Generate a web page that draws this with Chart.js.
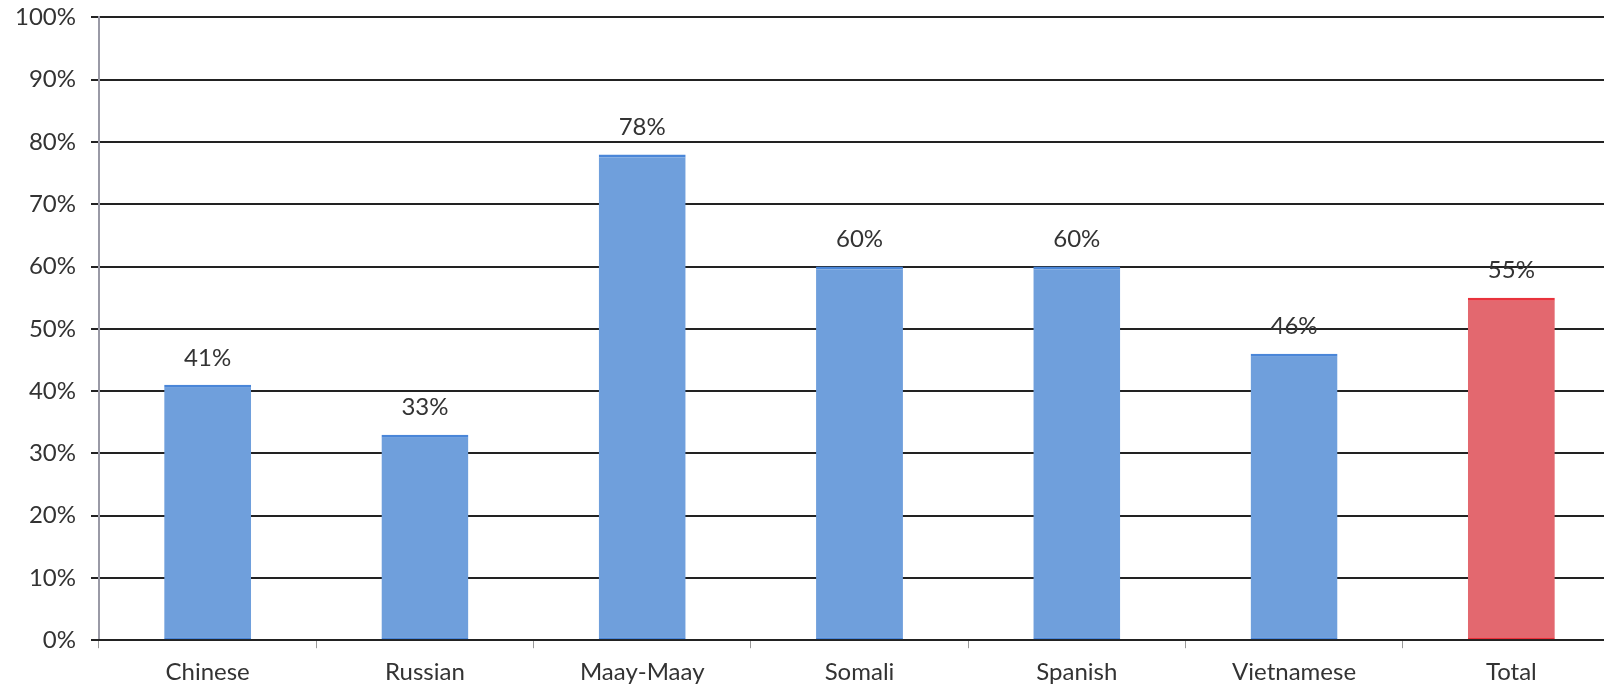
<!DOCTYPE html>
<html>
<head>
<meta charset="utf-8">
<script src="https://cdn.jsdelivr.net/npm/chart.js@4.4.1/dist/chart.umd.min.js"></script>
<style>
  html, body { margin: 0; padding: 0; background: #fff; overflow: hidden; height: 684px; }
  #wrap { width: 1620px; height: 709px; margin-top: -12px; }
</style>
</head>
<body>
<div id="wrap"><canvas id="langChart"></canvas></div>
<script>
const languages = ['Chinese', 'Russian', 'Maay-Maay', 'Somali', 'Spanish', 'Vietnamese', 'Total'];
const rates = [41, 33, 78, 60, 60, 46, 55];
const barColors = ['#6f9fdc', '#6f9fdc', '#6f9fdc', '#6f9fdc', '#6f9fdc', '#6f9fdc', '#e3686f'];
const edgeColors = ['#4a86d8', '#4a86d8', '#4a86d8', '#4a86d8', '#4a86d8', '#4a86d8', '#e8323c'];

// percent labels above each bar
const valueLabels = {
    id: 'valueLabels',
    afterDatasetsDraw(chart) {
        const ctx = chart.ctx;
        const meta = chart.getDatasetMeta(0);
        ctx.save();
        ctx.font = '24px Lato';
        ctx.fillStyle = '#333';
        ctx.textAlign = 'center';
        ctx.textBaseline = 'middle';
        meta.data.forEach((bar, i) => {
            ctx.fillText(rates[i] + '%', bar.x, bar.y - 27);
        });
        ctx.restore();
    }
};

new Chart(document.getElementById('langChart').getContext('2d'), {
    type: 'bar',
    data: {
        labels: languages,
        datasets: [{
            data: rates,
            backgroundColor: barColors,
            borderColor: edgeColors,
            borderWidth: { top: 3, bottom: 2, left: 0, right: 0 },
            borderSkipped: false,
            categoryPercentage: 1,
            barPercentage: 0.4
        }]
    },
    options: {
        responsive: true,
        maintainAspectRatio: false,
        animation: false,
        layout: { padding: { top: 0, left: 0, right: 0, bottom: 0 } },
        plugins: {
            legend: { display: false },
            tooltip: { enabled: false }
        },
        scales: {
            y: {
                min: 0,
                max: 100,
                ticks: {
                    stepSize: 10,
                    color: '#333',
                    font: { family: 'Lato', size: 24 },
                    padding: 15,
                    callback: v => v + '%'
                },
                grid: {
                    color: '#222',
                    lineWidth: 2,
                    tickLength: 8,
                    tickColor: '#222'
                },
                border: { display: true, color: '#9a9aa6', width: 2 }
            },
            x: {
                ticks: {
                    color: '#333',
                    font: { family: 'Lato', size: 24 },
                    padding: 10
                },
                grid: {
                    display: true,
                    drawOnChartArea: false,
                    offset: true,
                    tickLength: 8,
                    tickColor: '#999'
                },
                border: { display: true, color: '#222', width: 2 }
            }
        }
    },
    plugins: [valueLabels]
});
</script>
</body>
</html>
